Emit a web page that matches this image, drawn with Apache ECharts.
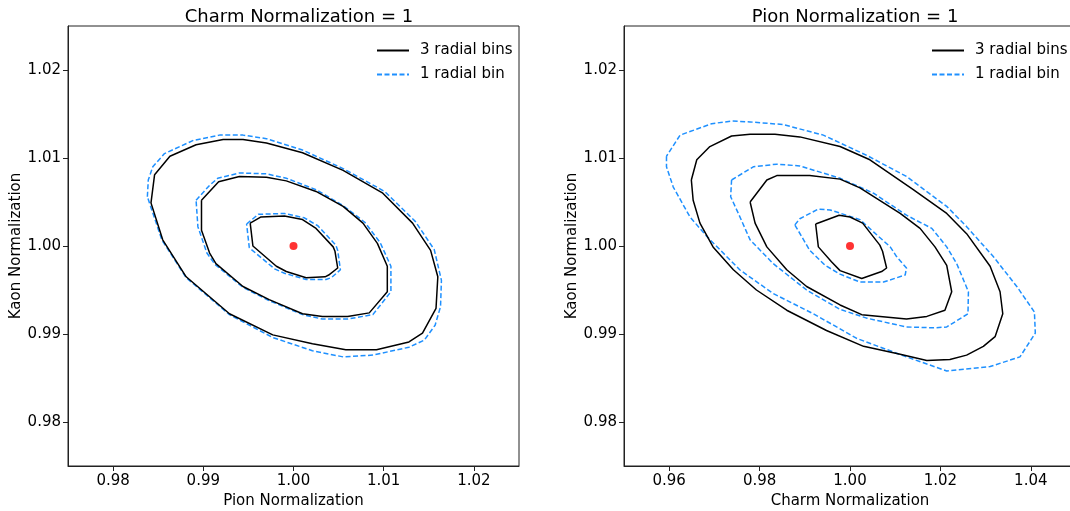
<!DOCTYPE html>
<html>
<head>
<meta charset="utf-8">
<script src="https://cdn.jsdelivr.net/npm/echarts@6/dist/echarts.min.js"></script>
<style>
  html, body { margin: 0; padding: 0; background: #fff; }
  #chart { width: 1070px; height: 511px; }
</style>
</head>
<body>
<div id="chart"></div>
<script>
// tick labels
var xTicksLeft = [0.98, 0.99, 1.00, 1.01, 1.02];
var xTicksRight = [0.96, 0.98, 1.00, 1.02, 1.04];
var yTicks = [0.98, 0.99, 1.00, 1.01, 1.02];
var bestFit = [[1.00, 1.00]];

// left panel: Pion (x) vs Kaon (y), charm = 1
var leftInner3 = [[0.9952,1.0026],[0.9964,1.0033],[0.9990,1.0034],[1.0010,1.0030],[1.0025,1.0020],[1.0044,0.9999],[1.0046,0.9994],[1.0049,0.9975],[1.0039,0.9967],[1.0035,0.9965],[1.0014,0.9964],[0.9992,0.9971],[0.9981,0.9977],[0.9955,1.0000]];
var leftInner1 = [[0.9948,1.0025],[0.9961,1.0036],[0.9990,1.0037],[1.0012,1.0032],[1.0027,1.0023],[1.0047,1.0001],[1.0049,0.9995],[1.0052,0.9973],[1.0042,0.9964],[1.0036,0.9962],[1.0014,0.9962],[0.9990,0.9969],[0.9979,0.9974],[0.9951,0.9998]];
var leftMid3 = [[0.9898,1.0052],[0.9917,1.0073],[0.9940,1.0079],[0.9970,1.0078],[0.9992,1.0074],[1.0025,1.0062],[1.0055,1.0045],[1.0077,1.0026],[1.0093,1.0003],[1.0104,0.9977],[1.0104,0.9948],[1.0084,0.9924],[1.0060,0.9920],[1.0032,0.9920],[1.0010,0.9923],[0.9973,0.9939],[0.9944,0.9954],[0.9914,0.9980],[0.9907,0.9992],[0.9898,1.0018]];
var leftMid1 = [[0.9892,1.0052],[0.9907,1.0069],[0.9916,1.0077],[0.9940,1.0083],[0.9970,1.0082],[0.9992,1.0077],[1.0025,1.0064],[1.0055,1.0046],[1.0079,1.0027],[1.0096,1.0004],[1.0108,0.9977],[1.0108,0.9948],[1.0088,0.9922],[1.0060,0.9917],[1.0032,0.9917],[1.0010,0.9922],[0.9973,0.9938],[0.9944,0.9953],[0.9913,0.9979],[0.9904,0.9992],[0.9894,1.0022]];
var leftOuter3 = [[0.9846,1.0081],[0.9863,1.0102],[0.9892,1.0115],[0.9922,1.0121],[0.9944,1.0121],[0.9970,1.0117],[1.0010,1.0106],[1.0055,1.0086],[1.0099,1.0060],[1.0132,1.0026],[1.0152,0.9995],[1.0160,0.9965],[1.0158,0.9929],[1.0143,0.9901],[1.0128,0.9891],[1.0092,0.9882],[1.0058,0.9882],[1.0021,0.9889],[0.9977,0.9899],[0.9929,0.9923],[0.9881,0.9965],[0.9855,1.0007],[0.9842,1.0049]];
var leftOuter1 = [[0.9838,1.0056],[0.9839,1.0075],[0.9844,1.0090],[0.9857,1.0105],[0.9889,1.0120],[0.9918,1.0126],[0.9944,1.0126],[0.9970,1.0122],[1.0010,1.0109],[1.0055,1.0088],[1.0101,1.0062],[1.0135,1.0028],[1.0156,0.9996],[1.0164,0.9961],[1.0163,0.9931],[1.0157,0.9910],[1.0145,0.9893],[1.0128,0.9885],[1.0088,0.9876],[1.0055,0.9874],[1.0021,0.9881],[0.9977,0.9896],[0.9929,0.9922],[0.9881,0.9964],[0.9854,1.0007]];

// right panel: Charm (x) vs Kaon (y), pion = 1
var rightInner3 = [[0.9924,1.0025],[0.9976,1.0035],[1.0000,1.0033],[1.0028,1.0026],[1.0066,1.0001],[1.0072,0.9994],[1.0081,0.9975],[1.0070,0.9971],[1.0026,0.9963],[0.9978,0.9972],[0.9959,0.9982],[0.9930,0.9999]];
var rightInner1 = [[0.9878,1.0024],[0.9889,1.0031],[0.9930,1.0042],[0.9956,1.0041],[1.0022,1.0030],[1.0052,1.0016],[1.0089,0.9999],[1.0103,0.9988],[1.0125,0.9975],[1.0122,0.9967],[1.0074,0.9959],[1.0022,0.9959],[0.9978,0.9968],[0.9945,0.9978],[0.9911,0.9995]];
var rightMid3 = [[0.9779,1.0050],[0.9816,1.0075],[0.9838,1.0080],[0.9911,1.0080],[0.9978,1.0076],[1.0022,1.0066],[1.0111,1.0037],[1.0155,1.0020],[1.0188,0.9999],[1.0214,0.9978],[1.0225,0.9948],[1.0210,0.9927],[1.0170,0.9920],[1.0125,0.9917],[1.0026,0.9922],[0.9978,0.9933],[0.9904,0.9954],[0.9860,0.9973],[0.9816,0.9999],[0.9790,1.0026]];
var rightMid1 = [[0.9738,1.0075],[0.9786,1.0090],[0.9838,1.0093],[0.9889,1.0091],[0.9978,1.0077],[1.0052,1.0060],[1.0125,1.0035],[1.0181,1.0020],[1.0214,0.9999],[1.0236,0.9980],[1.0262,0.9948],[1.0261,0.9923],[1.0214,0.9908],[1.0185,0.9907],[1.0125,0.9908],[1.0037,0.9918],[0.9978,0.9928],[0.9904,0.9950],[0.9830,0.9980],[0.9779,1.0007],[0.9753,1.0037],[0.9736,1.0056]];
var rightOuter3 = [[0.9649,1.0075],[0.9661,1.0098],[0.9690,1.0113],[0.9738,1.0125],[0.9779,1.0127],[0.9834,1.0127],[0.9889,1.0124],[0.9978,1.0113],[1.0044,1.0098],[1.0140,1.0064],[1.0214,1.0037],[1.0258,1.0014],[1.0310,0.9977],[1.0332,0.9948],[1.0338,0.9923],[1.0321,0.9897],[1.0295,0.9886],[1.0258,0.9876],[1.0221,0.9871],[1.0170,0.9870],[1.0111,0.9877],[1.0030,0.9886],[0.9948,0.9904],[0.9860,0.9927],[0.9793,0.9950],[0.9742,0.9973],[0.9697,0.9999],[0.9668,1.0026],[0.9653,1.0052]];
var rightOuter1 = [[0.9594,1.0102],[0.9594,1.0090],[0.9609,1.0067],[0.9646,1.0033],[0.9683,1.0011],[0.9756,0.9973],[0.9830,0.9946],[0.9919,0.9923],[1.0015,0.9895],[1.0125,0.9874],[1.0214,0.9858],[1.0310,0.9863],[1.0376,0.9874],[1.0410,0.9901],[1.0408,0.9925],[1.0369,0.9954],[1.0317,0.9988],[1.0258,1.0022],[1.0214,1.0045],[1.0125,1.0079],[1.0037,1.0103],[0.9941,1.0126],[0.9852,1.0138],[0.9779,1.0141],[0.9738,1.0142],[0.9694,1.0139],[0.9624,1.0126]];

var NAME3 = '3 radial bins';
var NAME1 = '1 radial bin';
var FONT = 'DejaVu Sans';

function ring(pts) {
  // close the contour
  return pts.concat([pts[0]]);
}

function solid(pts, gi) {
  return {
    type: 'line', name: NAME3, xAxisIndex: gi, yAxisIndex: gi,
    data: ring(pts), symbol: 'none', silent: true, z: 3,
    lineStyle: { color: '#000', width: 1.5, type: 'solid' },
    itemStyle: { color: '#000' }
  };
}
function dashed(pts, gi) {
  return {
    type: 'line', name: NAME1, xAxisIndex: gi, yAxisIndex: gi,
    data: ring(pts), symbol: 'none', silent: true, z: 2,
    lineStyle: { color: '#1e90ff', width: 1.5, type: [5, 2.5] },
    itemStyle: { color: '#1e90ff' }
  };
}

function xAxisCfg(gi, min, max, ticks, name) {
  return {
    type: 'value', gridIndex: gi, min: min, max: max,
    name: name, nameLocation: 'middle', nameGap: 28,
    nameTextStyle: { fontFamily: FONT, fontSize: 15, color: '#000' },
    splitLine: { show: false },
    axisLine: { show: true, onZero: false, lineStyle: { color: '#222', width: 1 } },
    axisTick: { show: true, length: 5, customValues: ticks, lineStyle: { color: '#222' } },
    axisLabel: {
      customValues: ticks, margin: 8, color: '#000', fontFamily: FONT, fontSize: 15,
      formatter: function (v) { return v.toFixed(2); }
    }
  };
}
function yAxisCfg(gi) {
  return {
    type: 'value', gridIndex: gi, min: 0.975, max: 1.025,
    name: 'Kaon Normalization', nameLocation: 'middle', nameGap: 43,
    nameTextStyle: { fontFamily: FONT, fontSize: 15, color: '#000' },
    splitLine: { show: false },
    axisLine: { show: true, onZero: false, lineStyle: { color: '#222', width: 1 } },
    axisTick: { show: true, length: 5, customValues: yTicks, lineStyle: { color: '#222' } },
    axisLabel: {
      customValues: yTicks, margin: 7, color: '#000', fontFamily: FONT, fontSize: 15,
      formatter: function (v) { return v.toFixed(2); }
    }
  };
}
function legendCfg(left) {
  return {
    orient: 'vertical', left: left, top: 38, itemWidth: 32, itemHeight: 14, itemGap: 9,
    data: [NAME3, NAME1], selectedMode: false,
    itemStyle: { opacity: 0 },
    textStyle: { fontFamily: FONT, fontSize: 15, color: '#000', padding: [0, 0, 0, 6] }
  };
}

var chart = echarts.init(document.getElementById('chart'), null, { renderer: 'canvas' });
chart.setOption({
  animation: false,
  backgroundColor: '#fff',
  title: [
    { text: 'Charm Normalization = 1', left: 294, top: 3, textAlign: 'center',
      textStyle: { fontFamily: FONT, fontSize: 18, fontWeight: 'normal', color: '#000' } },
    { text: 'Pion Normalization = 1', left: 850, top: 3, textAlign: 'center',
      textStyle: { fontFamily: FONT, fontSize: 18, fontWeight: 'normal', color: '#000' } }
  ],
  legend: [legendCfg(371), legendCfg(926)],
  grid: [
    { left: 68, top: 26, width: 451, height: 440, show: true, borderColor: '#222', borderWidth: 1,
      containLabel: false, outerBoundsMode: 'none' },
    { left: 624, top: 26, width: 452, height: 440, show: true, borderColor: '#222', borderWidth: 1,
      containLabel: false, outerBoundsMode: 'none' }
  ],
  xAxis: [
    xAxisCfg(0, 0.975, 1.025, xTicksLeft, 'Pion Normalization'),
    xAxisCfg(1, 0.95, 1.05, xTicksRight, 'Charm Normalization')
  ],
  yAxis: [yAxisCfg(0), yAxisCfg(1)],
  series: [
    solid(leftInner3, 0), dashed(leftInner1, 0),
    solid(leftMid3, 0), dashed(leftMid1, 0),
    solid(leftOuter3, 0), dashed(leftOuter1, 0),
    solid(rightInner3, 1), dashed(rightInner1, 1),
    solid(rightMid3, 1), dashed(rightMid1, 1),
    solid(rightOuter3, 1), dashed(rightOuter1, 1),
    { type: 'scatter', xAxisIndex: 0, yAxisIndex: 0, data: bestFit, symbolSize: 8, z: 5,
      itemStyle: { color: '#ff0000' }, silent: true },
    { type: 'scatter', xAxisIndex: 1, yAxisIndex: 1, data: bestFit, symbolSize: 8, z: 5,
      itemStyle: { color: '#ff0000' }, silent: true }
  ]
});
</script>
</body>
</html>
